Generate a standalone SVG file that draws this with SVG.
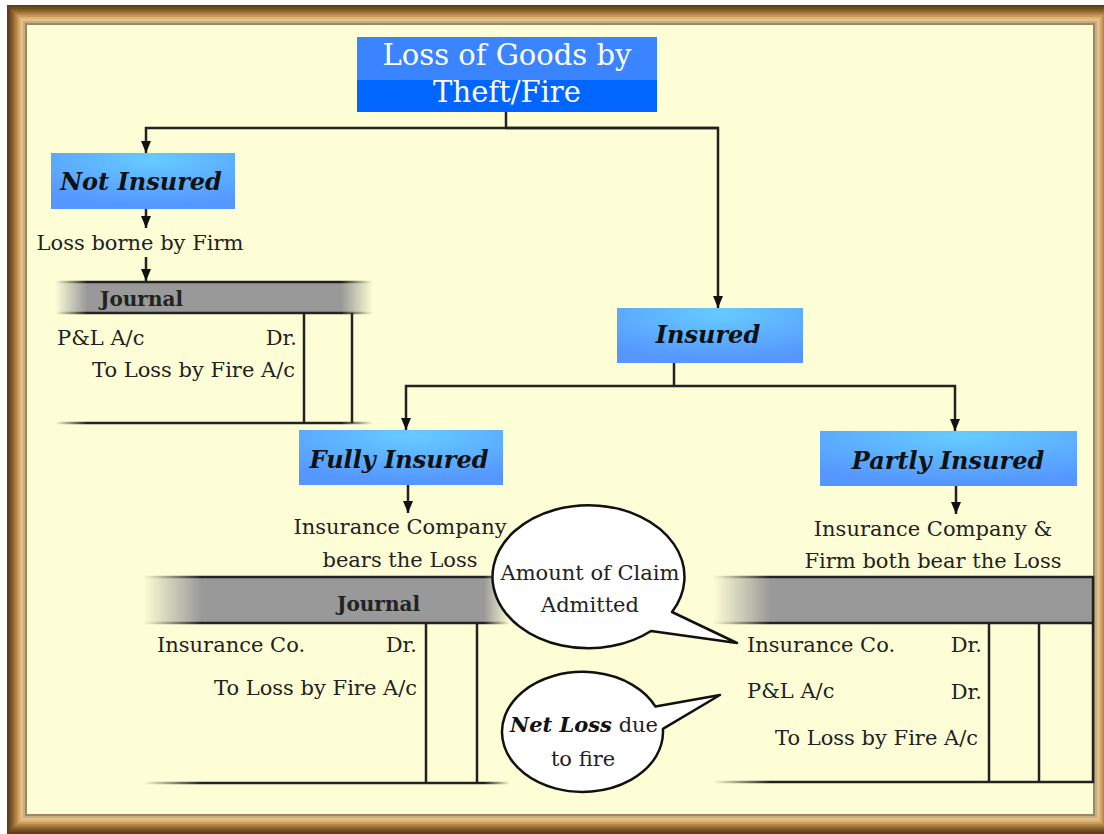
<svg xmlns="http://www.w3.org/2000/svg" width="1104" height="834" viewBox="0 0 1104 834">
  <defs>
    <style>
      .t{font-family:"DejaVu Serif","Liberation Serif",serif;font-size:21px;fill:#222}
      .bi{font-family:"DejaVu Serif","Liberation Serif",serif;font-size:24px;font-weight:bold;font-style:italic;fill:#111}
      .hd{font-family:"DejaVu Serif","Liberation Serif",serif;font-size:29px;fill:#fff}
      .jn{font-family:"DejaVu Serif","Liberation Serif",serif;font-size:20px;font-weight:bold;fill:#222}
      .ln{fill:none;stroke:#222;stroke-width:2.5}
      .rule{stroke:#222;stroke-width:2.5}
      .bubble{fill:#fff;stroke:#111;stroke-width:2.5;stroke-linejoin:round}
      .band{fill:none}
    </style>
    <marker id="arrow" markerUnits="userSpaceOnUse" viewBox="0 0 12 10" refX="12" refY="5" markerWidth="12" markerHeight="10" orient="auto">
      <path d="M0,0 L12,5 L0,10 Z" fill="#111"/>
    </marker>
    <radialGradient id="boxFill" cx="0.55" cy="0.1" r="0.85">
      <stop offset="0" stop-color="#66ccff"/>
      <stop offset="1" stop-color="#5596ff"/>
    </radialGradient>
    <!-- fades for the journal rules -->
    <linearGradient id="fadeL" gradientUnits="userSpaceOnUse" x1="55" y1="0" x2="373" y2="0">
      <stop offset="0" stop-color="#fff" stop-opacity="0"/>
      <stop offset="0.1" stop-color="#fff" stop-opacity="1"/>
      <stop offset="0.9" stop-color="#fff" stop-opacity="1"/>
      <stop offset="1" stop-color="#fff" stop-opacity="0"/>
    </linearGradient>
    <linearGradient id="fadeM" gradientUnits="userSpaceOnUse" x1="143" y1="0" x2="510" y2="0">
      <stop offset="0" stop-color="#fff" stop-opacity="0"/>
      <stop offset="0.16" stop-color="#fff" stop-opacity="1"/>
      <stop offset="0.93" stop-color="#fff" stop-opacity="1"/>
      <stop offset="1" stop-color="#fff" stop-opacity="0"/>
    </linearGradient>
    <linearGradient id="fadeR" gradientUnits="userSpaceOnUse" x1="713" y1="0" x2="1095" y2="0">
      <stop offset="0" stop-color="#fff" stop-opacity="0"/>
      <stop offset="0.15" stop-color="#fff" stop-opacity="1"/>
      <stop offset="1" stop-color="#fff" stop-opacity="1"/>
    </linearGradient>
    <mask id="maskL" maskUnits="userSpaceOnUse" x="0" y="0" width="1104" height="834">
      <rect x="50" y="270" width="330" height="160" fill="url(#fadeL)"/>
    </mask>
    <mask id="maskM" maskUnits="userSpaceOnUse" x="0" y="0" width="1104" height="834">
      <rect x="140" y="570" width="375" height="220" fill="url(#fadeM)"/>
    </mask>
    <mask id="maskR" maskUnits="userSpaceOnUse" x="0" y="0" width="1104" height="834">
      <rect x="710" y="570" width="394" height="220" fill="url(#fadeR)"/>
    </mask>
  </defs>

  <!-- page and wooden frame -->
  <rect x="0" y="0" width="1104" height="834" fill="#fff"/>
  <rect x="7" y="5" width="1106" height="829" fill="#fefed6"/>
  <g id="frame" class="band" stroke-width="2">
    <rect x="8" y="6" width="1104" height="827" stroke="#5e3f18"/>
    <rect x="10" y="8" width="1100" height="823" stroke="#6f4c1f"/>
    <rect x="12" y="10" width="1096" height="819" stroke="#845c28"/>
    <rect x="14" y="12" width="1092" height="815" stroke="#9a6e34"/>
    <rect x="16" y="14" width="1088" height="811" stroke="#b48444"/>
    <rect x="18" y="16" width="1084" height="807" stroke="#c99a58"/>
    <rect x="20" y="18" width="1080" height="803" stroke="#dcb47a"/>
    <rect x="22" y="20" width="1076" height="799" stroke="#e4c18c"/>
    <rect x="24" y="22" width="1072" height="795" stroke="#c8ad80"/>
    <rect x="26" y="24" width="1068" height="791" stroke="#9a8862"/>
  </g>

  <!-- connectors -->
  <g id="connectors">
    <path class="ln" d="M506,112 V128"/>
    <path class="ln" d="M718,128 H146 V153" marker-end="url(#arrow)"/>
    <path class="ln" d="M506,128 H718 V308" marker-end="url(#arrow)"/>
    <path class="ln" d="M146,209 V228" marker-end="url(#arrow)"/>
    <path class="ln" d="M146,257 V281" marker-end="url(#arrow)"/>
    <path class="ln" d="M674,363 V386"/>
    <path class="ln" d="M674,386 H406 V430" marker-end="url(#arrow)"/>
    <path class="ln" d="M674,386 H955 V431" marker-end="url(#arrow)"/>
    <path class="ln" d="M408,485 V513" marker-end="url(#arrow)"/>
    <path class="ln" d="M956,486 V514" marker-end="url(#arrow)"/>
  </g>

  <!-- root -->
  <g id="loss-of-goods">
    <rect x="357" y="37" width="300" height="43" fill="#3a85ff"/>
    <rect x="357" y="80" width="300" height="32" fill="#0066ff"/>
    <text class="hd" x="507" y="65" text-anchor="middle">Loss of Goods by</text>
    <text class="hd" x="507" y="102" text-anchor="middle">Theft/Fire</text>
  </g>

  <g id="not-insured">
    <rect x="51" y="153" width="184" height="56" fill="url(#boxFill)"/>
    <text class="bi" x="141" y="190" text-anchor="middle">Not Insured</text>
  </g>

  <g id="loss-borne-by-firm">
    <text class="t" x="140" y="250" text-anchor="middle">Loss borne by Firm</text>
  </g>

  <!-- journal: not insured -->
  <g id="journal-not-insured">
    <g mask="url(#maskL)">
      <rect x="55" y="282" width="318" height="31" fill="#999"/>
      <line class="rule" x1="55" y1="282" x2="373" y2="282"/>
      <line class="rule" x1="55" y1="313" x2="373" y2="313"/>
      <line class="rule" x1="55" y1="423" x2="373" y2="423"/>
    </g>
    <line class="rule" x1="304" y1="313" x2="304" y2="423"/>
    <line class="rule" x1="352" y1="313" x2="352" y2="423"/>
    <text class="jn" x="100" y="306">Journal</text>
    <text class="t" x="57" y="345">P&amp;L A/c</text>
    <text class="t" x="297" y="345" text-anchor="end">Dr.</text>
    <text class="t" x="295" y="377" text-anchor="end">To Loss by Fire A/c</text>
  </g>

  <g id="insured">
    <rect x="617" y="308" width="186" height="55" fill="url(#boxFill)"/>
    <text class="bi" x="708" y="343" text-anchor="middle">Insured</text>
  </g>

  <g id="fully-insured">
    <rect x="299" y="430" width="204" height="55" fill="url(#boxFill)"/>
    <text class="bi" x="399" y="468" text-anchor="middle">Fully Insured</text>
  </g>

  <g id="partly-insured">
    <rect x="820" y="431" width="257" height="55" fill="url(#boxFill)"/>
    <text class="bi" x="948" y="469" text-anchor="middle">Partly Insured</text>
  </g>

  <g id="company-bears-loss">
    <text class="t" x="400" y="534" text-anchor="middle">Insurance Company</text>
    <text class="t" x="400" y="567" text-anchor="middle">bears the Loss</text>
  </g>

  <g id="both-bear-loss">
    <text class="t" x="933" y="536" text-anchor="middle">Insurance Company &amp;</text>
    <text class="t" x="933" y="568" text-anchor="middle">Firm both bear the Loss</text>
  </g>

  <!-- journal: fully insured -->
  <g id="journal-fully-insured">
    <g mask="url(#maskM)">
      <rect x="143" y="577" width="367" height="46" fill="#999"/>
      <line class="rule" x1="143" y1="577" x2="510" y2="577"/>
      <line class="rule" x1="143" y1="623" x2="510" y2="623"/>
      <line class="rule" x1="143" y1="783" x2="510" y2="783"/>
    </g>
    <line class="rule" x1="426" y1="623" x2="426" y2="783"/>
    <line class="rule" x1="477" y1="623" x2="477" y2="783"/>
    <text class="jn" x="337" y="611">Journal</text>
    <text class="t" x="157" y="652">Insurance Co.</text>
    <text class="t" x="417" y="652" text-anchor="end">Dr.</text>
    <text class="t" x="417" y="695" text-anchor="end">To Loss by Fire A/c</text>
  </g>

  <!-- journal: partly insured -->
  <g id="journal-partly-insured">
    <g mask="url(#maskR)">
      <rect x="713" y="577" width="381" height="46" fill="#999"/>
      <line class="rule" x1="713" y1="577" x2="1094" y2="577"/>
      <line class="rule" x1="713" y1="623" x2="1094" y2="623"/>
      <line class="rule" x1="713" y1="782" x2="1094" y2="782"/>
    </g>
    <line class="rule" x1="989" y1="623" x2="989" y2="782"/>
    <line class="rule" x1="1039" y1="623" x2="1039" y2="782"/>
    <line class="rule" x1="1093" y1="576" x2="1093" y2="783"/>
    <text class="t" x="747" y="652">Insurance Co.</text>
    <text class="t" x="982" y="652" text-anchor="end">Dr.</text>
    <text class="t" x="747" y="698">P&amp;L A/c</text>
    <text class="t" x="982" y="699" text-anchor="end">Dr.</text>
    <text class="t" x="978" y="745" text-anchor="end">To Loss by Fire A/c</text>
  </g>

  <!-- callouts -->
  <g id="callout-claim">
    <path class="bubble" d="M672,612 L737,643 L651,631 A96,71.5 0 1 1 672,612 Z"/>
    <text class="t" x="590" y="580" text-anchor="middle">Amount of Claim</text>
    <text class="t" x="590" y="612" text-anchor="middle">Admitted</text>
  </g>

  <g id="callout-net-loss">
    <path class="bubble" d="M655.5,706.6 L720,695 L662.9,728.9 A80.5,60 0 1 1 655.5,706.6 Z"/>
    <text class="t" x="584" y="732" text-anchor="middle"><tspan font-weight="bold" font-style="italic" fill="#111">Net Loss</tspan> due</text>
    <text class="t" x="583" y="766" text-anchor="middle">to fire</text>
  </g>
</svg>
